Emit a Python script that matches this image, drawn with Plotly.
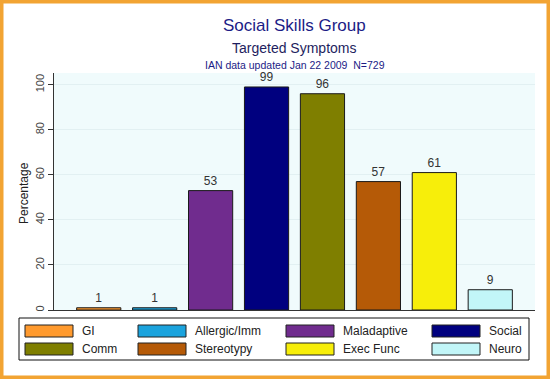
import plotly.graph_objects as go

categories = ["GI", "Allergic/Imm", "Maladaptive", "Social", "Comm", "Stereotypy", "Exec Func", "Neuro"]
values = [1, 1, 53, 99, 96, 57, 61, 9]
colors = ["#FF9A2E", "#1BA3DD", "#702C8E", "#00007F", "#7F7F00", "#B55A07", "#F7EE0A", "#C2F6F8"]
y_ticks = [0, 20, 40, 60, 80, 100]

W, H = 550, 379
L, R, T, B = 54, 15, 73, 69
PW, PH = W - L - R, H - T - B
FONT = "Liberation Sans, Arial, sans-serif"


def px(x):
    return (x - L) / PW


def py(y):
    return (H - B - y) / PH


fig = go.Figure()
fig.add_trace(go.Bar(
    x=list(range(len(categories))),
    y=values,
    marker=dict(color=colors, line=dict(color="#1a1a1a", width=1)),
    width=0.79,
    text=[str(v) for v in values],
    textposition="outside",
    textfont=dict(family=FONT, size=12, color="#333333"),
    cliponaxis=False,
    showlegend=False,
    hovertext=categories,
))

shapes = []
annotations = []

# page border
shapes.append(dict(type="rect", xref="paper", yref="paper",
                   x0=px(0), x1=px(W), y0=py(H), y1=py(0),
                   line=dict(color="#F2A433", width=7), fillcolor="rgba(0,0,0,0)", layer="above"))

# titles
annotations += [
    dict(text="Social Skills Group", x=px(294.5), y=py(25.5), xref="paper", yref="paper",
         showarrow=False, font=dict(family=FONT, size=17, color="#1C1C86"), yanchor="middle"),
    dict(text="Targeted Symptoms", x=px(294.5), y=py(47.5), xref="paper", yref="paper",
         showarrow=False, font=dict(family=FONT, size=14, color="#1E1E5E"), yanchor="middle"),
    dict(text="IAN data updated Jan 22 2009  N=729", x=px(294.5), y=py(64.5), xref="paper", yref="paper",
         showarrow=False, font=dict(family=FONT, size=10.5, color="#1C1C86"), yanchor="middle"),
    dict(text="Percentage", x=px(24), y=py(193), xref="paper", yref="paper", textangle=-90,
         showarrow=False, font=dict(family=FONT, size=12, color="#222222"),
         xanchor="center", yanchor="middle"),
]

# legend box
shapes.append(dict(type="rect", xref="paper", yref="paper",
                   x0=px(19), x1=px(529), y0=py(360), y1=py(318),
                   line=dict(color="#111111", width=1), fillcolor="white"))
col_x = [25, 138, 286, 432]
row_y = [331, 349]
for i, (cat, col) in enumerate(zip(categories, colors)):
    r, c = divmod(i, 4)
    x0 = col_x[c]
    yc = row_y[r]
    shapes.append(dict(type="rect", xref="paper", yref="paper",
                       x0=px(x0), x1=px(x0 + 48), y0=py(yc + 6), y1=py(yc - 6),
                       line=dict(color="#222222", width=1), fillcolor=col))
    annotations.append(dict(text=cat, x=px(x0 + 55), y=py(yc), xref="paper", yref="paper",
                            showarrow=False, xanchor="left", yanchor="middle",
                            font=dict(family=FONT, size=12, color="#222222")))

fig.update_layout(
    width=W, height=H,
    margin=dict(l=L, r=R, t=T, b=B, pad=0),
    paper_bgcolor="white",
    plot_bgcolor="#F0FBFC",
    shapes=shapes,
    annotations=annotations,
    xaxis=dict(range=[-0.8, 7.8], showticklabels=False, ticks="", showgrid=False,
               zeroline=False, showline=True, linecolor="#333333", linewidth=1, fixedrange=True),
    yaxis=dict(range=[0, 105.2], tickvals=y_ticks, ticktext=[str(t) for t in y_ticks],
               tickangle=-90, ticks="outside", ticklen=5, tickcolor="#333333",
               tickfont=dict(family=FONT, size=11, color="#444444"),
               showline=True, linecolor="#333333", linewidth=1,
               showgrid=True, gridcolor="#E2F0F2", gridwidth=1, zeroline=False, fixedrange=True),
    bargap=0.2,
    font=dict(family=FONT),
)

fig.write_html("out.html", config={"displayModeBar": False})

with open("out.html", encoding="utf-8") as f:
    html = f.read()
html = html.replace("<head>", "<head><style>html,body{margin:0;padding:0;overflow:hidden}</style>", 1)
with open("out.html", "w", encoding="utf-8") as f:
    f.write(html)
